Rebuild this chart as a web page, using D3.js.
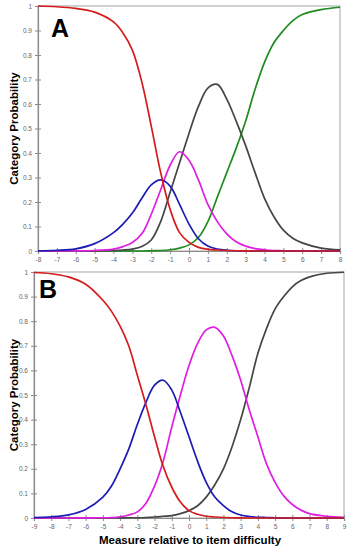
<!DOCTYPE html>
<html>
<head>
<meta charset="utf-8">
<script src="https://cdn.jsdelivr.net/npm/d3@7"></script>
<style>
  body { margin: 0; background: #fff; }
  svg { display: block; font-family: "Liberation Sans", Arial, sans-serif; }
</style>
</head>
<body>
<svg width="352" height="550"></svg>
<script>
// panel A: five categories, x from -8 to 8
var xA = [-8, -7, -6, -5, -4, -3.5, -3, -2.5, -2, -1.5, -1, -0.5, 0, 0.5, 1, 1.5, 2, 2.5, 3, 3.5, 4, 4.5, 5, 5.5, 6, 7, 8];
var redA     = [1.0, 0.997, 0.99, 0.975, 0.935, 0.89, 0.82, 0.69, 0.51, 0.32, 0.17, 0.075, 0.035, 0.015, 0.007, 0.004, 0.002, 0.001, 0.0005, 0, 0, 0, 0, 0, 0, 0, 0];
var blueA    = [0.001, 0.003, 0.009, 0.03, 0.075, 0.11, 0.155, 0.215, 0.27, 0.29, 0.265, 0.19, 0.11, 0.05, 0.02, 0.008, 0.003, 0.001, 0.0005, 0, 0, 0, 0, 0, 0, 0, 0];
var magentaA = [0, 0, 0.0005, 0.002, 0.008, 0.018, 0.035, 0.07, 0.15, 0.25, 0.35, 0.405, 0.37, 0.29, 0.19, 0.12, 0.07, 0.038, 0.02, 0.01, 0.005, 0.002, 0.001, 0, 0, 0, 0];
var grayA    = [0, 0, 0, 0.0005, 0.002, 0.004, 0.008, 0.018, 0.045, 0.12, 0.24, 0.36, 0.48, 0.59, 0.665, 0.68, 0.62, 0.53, 0.43, 0.32, 0.215, 0.14, 0.085, 0.052, 0.033, 0.012, 0.005];
var greenA   = [0, 0, 0, 0, 0, 0, 0, 0, 0.001, 0.002, 0.005, 0.012, 0.025, 0.055, 0.12, 0.22, 0.32, 0.42, 0.53, 0.66, 0.77, 0.85, 0.9, 0.94, 0.965, 0.985, 0.995];

// panel B: four categories, x from -9 to 9
var xB = [-9, -8, -7, -6, -5, -4.5, -4, -3.5, -3, -2.5, -2, -1.5, -1, -0.5, 0, 0.5, 1, 1.5, 2, 2.5, 3, 3.5, 4, 4.5, 5, 5.5, 6, 6.5, 7, 8, 9];
var redB     = [0.998, 0.993, 0.98, 0.95, 0.885, 0.84, 0.78, 0.7, 0.58, 0.46, 0.33, 0.21, 0.125, 0.065, 0.03, 0.015, 0.007, 0.004, 0.002, 0.001, 0.0005, 0, 0, 0, 0, 0, 0, 0, 0, 0, 0];
var blueB    = [0.002, 0.005, 0.013, 0.035, 0.085, 0.13, 0.2, 0.28, 0.38, 0.47, 0.54, 0.56, 0.52, 0.43, 0.33, 0.23, 0.145, 0.085, 0.05, 0.025, 0.012, 0.006, 0.003, 0.002, 0.001, 0, 0, 0, 0, 0, 0];
var magentaB = [0, 0, 0, 0.0005, 0.001, 0.002, 0.005, 0.012, 0.025, 0.06, 0.13, 0.23, 0.37, 0.5, 0.62, 0.71, 0.765, 0.775, 0.74, 0.66, 0.56, 0.44, 0.33, 0.22, 0.145, 0.09, 0.055, 0.032, 0.018, 0.007, 0.003];
var grayB    = [0, 0, 0, 0, 0, 0, 0.0005, 0.001, 0.001, 0.002, 0.004, 0.007, 0.01, 0.018, 0.03, 0.05, 0.085, 0.135, 0.2, 0.29, 0.4, 0.53, 0.67, 0.77, 0.85, 0.9, 0.94, 0.965, 0.98, 0.995, 0.999];

var yTicks = [0, 0.1, 0.2, 0.3, 0.4, 0.5, 0.6, 0.7, 0.8, 0.9, 1];
var xTicksA = d3.range(-8, 9);
var xTicksB = d3.range(-9, 10);

var colors = { red: "#d41c1c", blue: "#1c1cb4", magenta: "#e01ee0", gray: "#454545", green: "#1e8c1e" };

var svg = d3.select("svg");

var panels = [
  { letter: "A", box: [38, 340, 6, 251], dom: [-8, 8], x: xA, xTicks: xTicksA,
    series: [["green", greenA], ["gray", grayA], ["magenta", magentaA], ["blue", blueA], ["red", redA]],
    letterPos: [51, 37] },
  { letter: "B", box: [34, 344, 272, 518], dom: [-9, 9], x: xB, xTicks: xTicksB,
    series: [["gray", grayB], ["magenta", magentaB], ["blue", blueB], ["red", redB]],
    letterPos: [39, 298] }
];

panels.forEach(function (p) {
  var x = d3.scaleLinear().domain(p.dom).range([p.box[0], p.box[1]]);
  var y = d3.scaleLinear().domain([0, 1]).range([p.box[3], p.box[2]]);
  var g = svg.append("g");

  // frame
  g.append("rect")
      .attr("x", p.box[0]).attr("y", p.box[2])
      .attr("width", p.box[1] - p.box[0]).attr("height", p.box[3] - p.box[2])
      .attr("fill", "none").attr("stroke", "#b4b4b4").attr("stroke-width", 1.2);

  var yAxis = g.append("g")
      .attr("transform", "translate(" + p.box[0] + ",0)")
      .call(d3.axisLeft(y).tickValues(yTicks).tickSize(3).tickPadding(3)
          .tickFormat(function (d) { return d === 0 || d === 1 ? String(d) : d.toFixed(1); }));
  yAxis.selectAll(".tick line").attr("x1", 3);

  var xAxis = g.append("g")
      .attr("transform", "translate(0," + p.box[3] + ")")
      .call(d3.axisBottom(x).tickValues(p.xTicks).tickSize(3).tickPadding(3)
          .tickFormat(function (d) { return String(d); }));
  xAxis.selectAll(".tick line").attr("y1", -3);

  [yAxis, xAxis].forEach(function (a) {
    a.select(".domain").attr("stroke", "#8c8c8c").attr("stroke-width", 1.2);
    a.selectAll(".tick line").attr("stroke", "#8c8c8c");
    a.selectAll(".tick text").attr("fill", "#666").style("font-size", "6.5px")
        .style("font-family", "'Liberation Sans', Arial, sans-serif");
  });

  var line = d3.line()
      .x(function (d, i) { return x(p.x[i]); })
      .y(function (d) { return y(d); })
      .curve(d3.curveCatmullRom.alpha(0.5));

  p.series.forEach(function (s) {
    g.append("path")
        .datum(s[1])
        .attr("d", line)
        .attr("fill", "none")
        .attr("stroke", colors[s[0]])
        .attr("stroke-width", 1.7);
  });

  g.append("text")
      .attr("x", p.letterPos[0]).attr("y", p.letterPos[1])
      .style("font-size", "25px").style("font-weight", "bold")
      .text(p.letter);

  g.append("text")
      .attr("transform", "translate(18," + ((p.box[2] + p.box[3]) / 2) + ") rotate(-90)")
      .attr("text-anchor", "middle")
      .style("font-size", "11.5px").style("font-weight", "bold")
      .text("Category Probability");
});

svg.append("text")
    .attr("x", 190).attr("y", 544)
    .attr("text-anchor", "middle")
    .style("font-size", "11.5px").style("font-weight", "bold")
    .text("Measure relative to item difficulty");
</script>
</body>
</html>
